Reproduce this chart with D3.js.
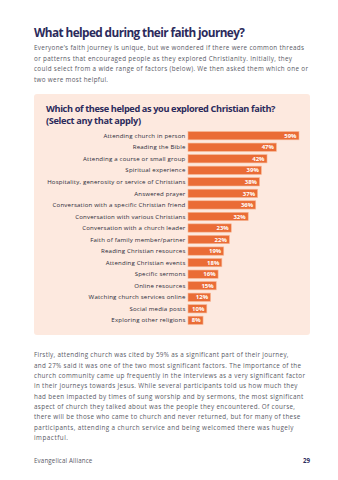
<!DOCTYPE html>
<html>
<head>
<meta charset="utf-8">
<script src="https://cdn.jsdelivr.net/npm/d3@7/dist/d3.min.js"></script>
<style>
  html, body { margin: 0; padding: 0; background: #ffffff; }
  svg { display: block; }
  text { font-family: "Open Sans", Lato, sans-serif; }
</style>
</head>
<body>
<svg id="page" width="338" height="480"></svg>
<script>
// Survey answers: what helped respondents explore Christian faith
const categories = [
  "Attending church in person",
  "Reading the Bible",
  "Attending a course or small group",
  "Spiritual experience",
  "Hospitality, generosity or service of Christians",
  "Answered prayer",
  "Conversation with a specific Christian friend",
  "Conversation with various Christians",
  "Conversation with a church leader",
  "Faith of family member/partner",
  "Reading Christian resources",
  "Attending Christian events",
  "Specific sermons",
  "Online resources",
  "Watching church services online",
  "Social media posts",
  "Exploring other religions"
];
const values = [59, 47, 42, 39, 38, 37, 36, 32, 23, 22, 19, 18, 16, 15, 12, 10, 8];

const heading = "What helped during their faith journey?";
const introLines = [
  "Everyone\u2019s faith journey is unique, but we wondered if there were common threads",
  "or patterns that encouraged people as they explored Christianity. Initially, they",
  "could select from a wide range of factors (below). We then asked them which one or",
  "two were most helpful."
];
const chartTitle = [
  "Which of these helped as you explored Christian faith?",
  "(Select any that apply)"
];
const bodyLines = [
  "Firstly, attending church was cited by 59% as a significant part of their journey,",
  "and 27% said it was one of the two most significant factors. The importance of the",
  "church community came up frequently in the interviews as a very significant factor",
  "in their journeys towards Jesus. While several participants told us how much they",
  "had been impacted by times of sung worship and by sermons, the most significant",
  "aspect of church they talked about was the people they encountered. Of course,",
  "there will be those who came to church and never returned, but for many of these",
  "participants, attending a church service and being welcomed there was hugely",
  "impactful."
];
const footerLeft = "Evangelical Alliance";
const footerRight = "29";

// Typeset line end positions (x of the right edge of each set line)
const introEnds = [304, 292, 308, 108];
const bodyEnds = [288.5, 301, 305, 297.5, 303.3, 295, 300.3, 293.3, 68];
const chartTitleEnds = [275.5, 141];

const navy = "#2c2b5c";
const grey = "#5a5a66";
const orange = "#ea6c36";
const panelFill = "#fde9df";

const svg = d3.select("#page");

// Stretch or tighten a text line so that it ends at a given x, via letter spacing
function fitTo(sel, ends) {
  sel.each(function(d, i) {
    const x0 = +this.getAttribute("x");
    const w = ends[i] - x0;
    const len = this.getComputedTextLength();
    const n = this.textContent.length;
    if (len > 0 && n > 1) {
      d3.select(this).attr("letter-spacing", ((w - len) / (n - 1)).toFixed(3));
    }
  });
}

// Heading
svg.append("text")
  .attr("x", 34).attr("y", 37)
  .attr("font-size", 11.8).attr("font-weight", 700)
  .attr("fill", navy)
  .text(heading)
  .call(fitTo, [245]);

// Intro paragraph
svg.append("g").selectAll("text").data(introLines).join("text")
  .attr("x", 34).attr("y", (d, i) => 50.2 + i * 10.5)
  .attr("font-size", 6.3).attr("fill", grey)
  .text(d => d)
  .call(fitTo, introEnds);

// Chart panel
svg.append("rect")
  .attr("x", 34).attr("y", 94).attr("width", 276).attr("height", 241)
  .attr("rx", 3).attr("fill", panelFill);

svg.append("g").selectAll("text").data(chartTitle).join("text")
  .attr("x", 46).attr("y", (d, i) => 112.3 + i * 11.7)
  .attr("font-size", 9.2).attr("font-weight", 700)
  .attr("fill", navy)
  .text(d => d)
  .call(fitTo, chartTitleEnds);

// Scales
const x = d3.scaleLinear().domain([0, 59]).range([188, 299]);
const y = d3.scaleBand().domain(categories).range([129.9, 326.1]).paddingInner(0.28).paddingOuter(0.14);

const rows = svg.append("g").selectAll("g").data(categories).join("g");

rows.append("rect")
  .attr("x", x(0))
  .attr("y", d => y(d))
  .attr("width", (d, i) => x(values[i]) - x(0))
  .attr("height", y.bandwidth())
  .attr("fill", orange)
  .attr("stroke", "#f7b896").attr("stroke-width", 0.6);

const catLabels = rows.append("text")
  .attr("x", x(0) - 2.5)
  .attr("y", d => y(d) + y.bandwidth() / 2)
  .attr("dy", "0.35em")
  .attr("text-anchor", "end")
  .attr("font-size", 6.1).attr("font-weight", 500)
  .attr("fill", "#2a2a38")
  .text(d => d);

// One shared letter spacing so the longest category label spans the label column
(function() {
  let widest = null, wl = 0;
  catLabels.each(function() {
    const l = this.getComputedTextLength();
    if (l > wl) { wl = l; widest = this; }
  });
  const target = (x(0) - 2.5) - 47.3;
  const ls = (target - wl) / (widest.textContent.length - 1);
  catLabels.attr("letter-spacing", ls.toFixed(3));
})();

rows.append("text")
  .attr("x", (d, i) => x(values[i]) - 2.5)
  .attr("y", d => y(d) + y.bandwidth() / 2)
  .attr("dy", "0.36em")
  .attr("text-anchor", "end")
  .attr("font-size", 6).attr("font-weight", 700)
  .attr("fill", "#ffffff")
  .text((d, i) => values[i] + "%");

// Body paragraph
svg.append("g").selectAll("text").data(bodyLines).join("text")
  .attr("x", 34).attr("y", (d, i) => 357.2 + i * 10.35)
  .attr("font-size", 6.3).attr("fill", grey)
  .text(d => d)
  .call(fitTo, bodyEnds);

// Footer
svg.append("text")
  .attr("x", 34).attr("y", 463)
  .attr("font-size", 6.2).attr("fill", grey)
  .text(footerLeft)
  .call(fitTo, [92.3]);
svg.append("text")
  .attr("x", 310).attr("y", 463)
  .attr("text-anchor", "end")
  .attr("font-size", 6.2).attr("font-weight", 700).attr("fill", navy)
  .text(footerRight);
</script>
</body>
</html>
